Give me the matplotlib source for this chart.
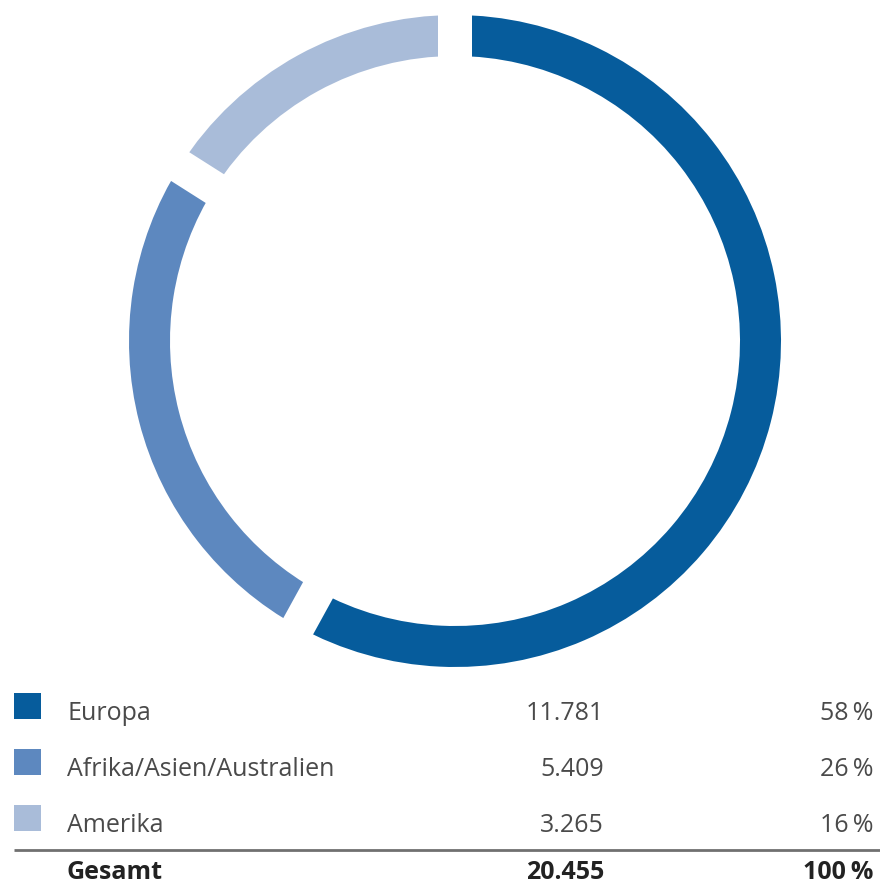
import matplotlib.pyplot as plt
import numpy as np
from matplotlib.patches import Rectangle

# Mitarbeiter nach Regionen
regions = ["Europa", "Afrika/Asien/Australien", "Amerika"]
counts = [11781, 5409, 3265]
count_labels = ["11.781", "5.409", "3.265"]
shares = [58, 26, 16]
total_label = "20.455"
total_share = 100
colors = ["#065c9c", "#5d88bf", "#a9bcd9"]

W, H, DPI = 880, 886, 100
FONT = ["Open Sans", "DejaVu Sans"]
FS = 18


def draw_ring(fig):
    # ring centre (455, 341) px, outer radius 326 px
    cx, cy, r = 455, 341, 326
    ax = fig.add_axes([(cx - r) / W, 1 - (cy + r) / H, 2 * r / W, 2 * r / H])
    ax.pie(shares, colors=colors, startangle=90, counterclock=False,
           radius=1.0, wedgeprops=dict(width=41 / r, linewidth=0))
    # white gaps of constant width between the segments
    bounds = np.cumsum([0] + shares[:-1]) / total_share
    for b in bounds:
        ang = np.pi / 2 - 2 * np.pi * b
        ax.plot([0, 1.1 * np.cos(ang)], [0, 1.1 * np.sin(ang)],
                color="white", lw=34 * 72 / DPI, solid_capstyle="butt")
    ax.set_xlim(-1, 1)
    ax.set_ylim(-1, 1)
    ax.set_aspect("equal")
    ax.axis("off")


def draw_table(fig):
    ax = fig.add_axes([0, 0, 1, 1])
    ax.set_xlim(0, W)
    ax.set_ylim(H, 0)
    ax.axis("off")
    ax.patch.set_alpha(0)

    baselines = [720, 776, 832]
    for i, region in enumerate(regions):
        y = baselines[i]
        ax.add_patch(Rectangle((14, y - 27), 27, 26, color=colors[i], lw=0))
        ax.text(67, y, region, fontsize=FS, color="#4a4a4a",
                family=FONT, va="baseline", ha="left")
        ax.text(604, y, count_labels[i], fontsize=FS, color="#4a4a4a",
                family=FONT, va="baseline", ha="right")
        ax.text(873, y, f"{shares[i]}\u2009%", fontsize=FS, color="#4a4a4a",
                family=FONT, va="baseline", ha="right")

    ax.plot([14, 880], [850, 850], color="#707070", lw=2.0, solid_capstyle="butt")

    y = 879
    ax.text(67, y, "Gesamt", fontsize=FS, color="#222222", weight="bold",
            family=FONT, va="baseline", ha="left")
    ax.text(604, y, total_label, fontsize=FS, color="#222222", weight="bold",
            family=FONT, va="baseline", ha="right")
    ax.text(873, y, f"{total_share}\u2009%", fontsize=FS, color="#222222",
            weight="bold", family=FONT, va="baseline", ha="right")


def main():
    fig = plt.figure(figsize=(W / DPI, H / DPI), dpi=DPI)
    fig.patch.set_facecolor("white")
    draw_ring(fig)
    draw_table(fig)
    fig.savefig("out.png", dpi=DPI, facecolor="white")
    plt.close(fig)


if __name__ == "__main__":
    main()
